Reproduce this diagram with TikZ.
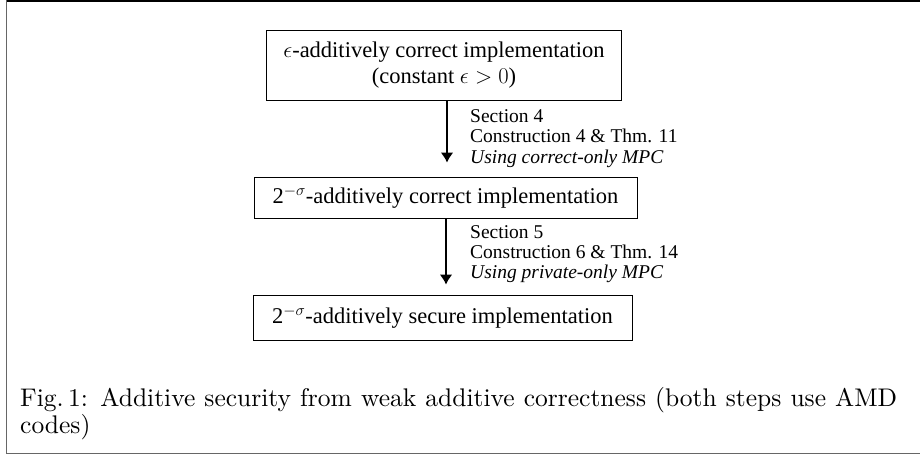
\documentclass[tikz,border=0pt]{standalone}
\usepackage{fix-cm}
\usepackage{fontspec}
\usepackage{amsmath}
\usetikzlibrary{arrows.meta}
\newfontfamily\tnr{Liberation Serif}
\newfontfamily\capfont{lmroman10-regular.otf}

\begin{document}
\begin{tikzpicture}[x=1pt, y=-1pt,
    stage/.style = {draw, line width=0.9pt, inner sep=0pt, align=center,
      font=\tnr\fontsize{22.5}{26}\selectfont},
    flow/.style = {-{Latex[length=10pt, width=13pt]}, line width=2.2pt},
    note/.style = {anchor=west, inner sep=0pt, align=left,
      font=\tnr\fontsize{19.5}{20.3}\selectfont},
    frameline/.style = {line width=1.8pt, black!60}]
    \useasboundingbox (0,0) rectangle (920,456);
    % frame round the figure (no right side)
    \draw[frameline] (6.5,0) -- (6.5,453.5) -- (920,453.5);
    \draw[line width=1.5pt] (6.5,0.75) -- (920,0.75);
    % the three implementations
    \node[stage, minimum width=355pt, minimum height=70pt] (corr) at (444,65)
      {$\epsilon$-additively correct implementation\\ (constant $\epsilon > 0$)};
    \node[stage, minimum width=383pt, minimum height=41pt] (corrsig) at (445.5,197.5)
      {2$^{-\sigma}$-additively correct implementation};
    \node[stage, minimum width=379pt, minimum height=45pt] (secsig) at (442.5,317.5)
      {2$^{-\sigma}$-additively secure implementation};
    % steps between them
    \draw[flow, shorten >=14pt] ([xshift=3pt]corr.south) -- ([xshift=1.5pt]corrsig.north);
    \draw[flow, shorten >=10pt] ([xshift=0.5pt]corrsig.south) -- ([xshift=3.5pt]secsig.north);
    \node[note] (step1) at (470,138.5)
      {Section 4\\ Construction 4 \& Thm. 11\\ \textit{Using correct-only MPC}};
    \node[note] (step2) at (470,254)
      {Section 5\\ Construction 6 \& Thm. 14\\ \textit{Using private-only MPC}};
    % caption
    \node[anchor=north west, inner sep=0pt, text width=877pt, align=justify,
      font=\capfont\fontsize{25.5}{26.5}\selectfont] (cap) at (20,387.5)
      {Fig.\,1: Additive security from weak additive correctness (both steps use AMD\linebreak codes)};
\end{tikzpicture}
\end{document}
